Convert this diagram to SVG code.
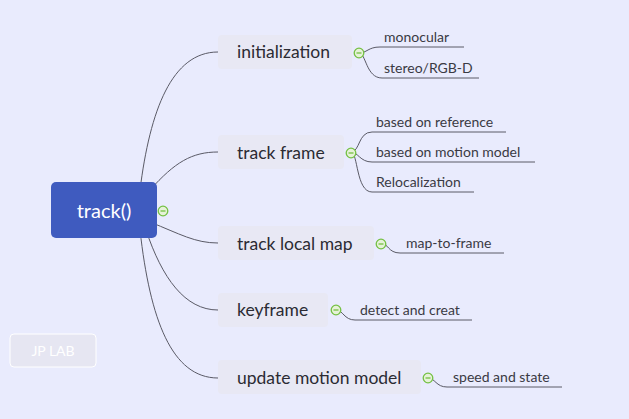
<svg xmlns="http://www.w3.org/2000/svg" width="629" height="419" viewBox="0 0 629 419">
<style>
.bg{fill:#e9ebfd}
.conn path{fill:none;stroke:#5a5a66;stroke-width:1}
.box{fill:#e8e8f4}
.t1{font-family:Lato,"Noto Sans",sans-serif;font-size:17.5px;fill:#2b2b33}
.t2{font-family:Lato,"Noto Sans",sans-serif;font-size:14px;fill:#3a3a44}
.tog{fill:#e6f2d8;stroke:#74c043;stroke-width:1.3}
.tog-l{stroke:#74c043;stroke-width:1.3}
</style>
<defs>
<g id="toggle"><circle r="4.8" class="tog"/><line x1="-2.5" y1="0" x2="2.5" y2="0" class="tog-l"/></g>
</defs>
<rect class="bg" x="0" y="0" width="629" height="419"/>
<g id="connectors" class="conn">
<path d="M140 190 C150 110 172 52 218 52"/>
<path d="M150 190 C175 162 192 152 218 152"/>
<path d="M150 222 C180 234 195 243 218 243"/>
<path d="M146 230 C162 278 185 310 218 310"/>
<path d="M140 230 C150 320 172 378 218 378"/>
<path d="M359 53 C367 53 368 47 380 47 L464 47"/>
<path d="M359 53 C366 53 366 78 382 78 L479 78"/>
<path d="M351 152 C360 152 358 132 372 132 L506 132"/>
<path d="M351 152 C358 152 360 162 372 162 L535 162"/>
<path d="M351 152 C358 152 356 192 372 192 L474 192"/>
<path d="M381 243 C388 243 388 253 400 253 L504 253"/>
<path d="M336 310 C343 310 344 320 355 320 L472 320"/>
<path d="M428 378 C435 378 436 387 447 387 L562 387"/>
</g>
<g id="root">
<rect x="51" y="182" width="106" height="56" rx="5" fill="#3f5bbf"/>
<text x="104" y="218" text-anchor="middle" font-family="Lato,'Noto Sans',sans-serif" font-size="20" fill="#ffffff">track()</text>
<use href="#toggle" x="163" y="211"/>
</g>
<g id="initialization">
<rect class="box" x="218" y="35" width="134" height="34" rx="4"/>
<text class="t1" x="237" y="58">initialization</text>
<use href="#toggle" x="359" y="53"/>
</g>
<g id="monocular"><text class="t2" x="384" y="42">monocular</text></g>
<g id="stereo"><text class="t2" x="384" y="73">stereo/RGB-D</text></g>
<g id="track-frame">
<rect class="box" x="218" y="135" width="126" height="34" rx="4"/>
<text class="t1" x="237" y="159">track frame</text>
<use href="#toggle" x="351" y="153"/>
</g>
<g id="based-ref"><text class="t2" x="376" y="127">based on reference</text></g>
<g id="based-motion"><text class="t2" x="376" y="157">based on motion model</text></g>
<g id="reloc"><text class="t2" x="376" y="187">Relocalization</text></g>
<g id="track-local-map">
<rect class="box" x="218" y="226" width="156" height="34" rx="4"/>
<text class="t1" x="237" y="250">track local map</text>
<use href="#toggle" x="381" y="244"/>
</g>
<g id="map-to-frame"><text class="t2" x="406" y="248">map-to-frame</text></g>
<g id="keyframe">
<rect class="box" x="218" y="293" width="110" height="34" rx="4"/>
<text class="t1" x="237" y="316">keyframe</text>
<use href="#toggle" x="336" y="310"/>
</g>
<g id="detect"><text class="t2" x="360" y="315">detect and creat</text></g>
<g id="update-motion-model">
<rect class="box" x="218" y="360" width="203" height="34" rx="4"/>
<text class="t1" x="237" y="384">update motion model</text>
<use href="#toggle" x="428" y="378"/>
</g>
<g id="speed"><text class="t2" x="453" y="382">speed and state</text></g>
<g id="jplab">
<rect x="10" y="334" width="86" height="33" rx="4" fill="#e6e6f2" stroke="#ffffff" stroke-width="1"/>
<text x="53" y="356" text-anchor="middle" font-family="Lato,'Noto Sans',sans-serif" font-size="14" fill="#ffffff">JP LAB</text>
</g>
</svg>
